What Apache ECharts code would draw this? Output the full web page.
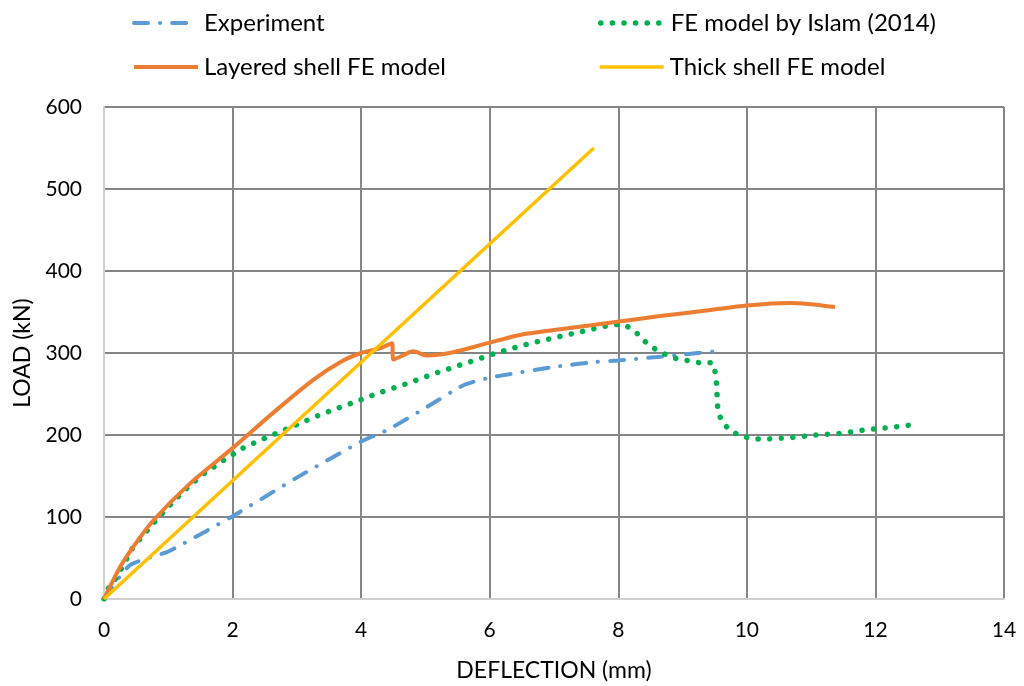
<!DOCTYPE html>
<html>
<head>
<meta charset="utf-8">
<script src="https://cdn.jsdelivr.net/npm/echarts@6/dist/echarts.min.js"></script>
<style>
  html, body { margin: 0; padding: 0; background: #fff; }
  #main { width: 1024px; height: 686px; }
</style>
</head>
<body>
<div id="main"></div>
<script>
// values (deflection in mm, load in kN)
var expX = [0, 0.4, 1.0, 2.0, 3.0, 4.0, 4.43, 5.02, 5.6, 6.0, 6.3, 7.0, 7.65, 8.0, 8.6, 9.0, 9.5];
var expY = [0, 41, 58, 101, 148, 192, 207, 234, 261, 270, 274, 283, 289, 291, 295, 298, 302];

var islamX = [0, 0.05, 0.2, 0.45, 0.72, 0.98, 1.23, 1.52, 1.84, 2.16, 2.5, 2.86, 3.4, 3.93, 4.26, 4.65, 5.18, 5.72, 6.1, 6.64, 7.2, 7.76, 7.95, 8.13, 8.29, 8.43, 8.57, 8.74, 8.91, 9.27, 9.47, 9.52, 9.53, 9.54, 9.55, 9.63, 9.77, 9.94, 10.13, 10.3, 10.7, 11.07, 11.45, 11.82, 12.2, 12.65];
var islamY = [0, 11, 27, 63, 88, 111, 131, 151, 168, 184, 196, 208, 226, 241, 251, 261, 276, 290, 300, 312, 322, 332, 335, 333, 324, 313, 305, 298, 293, 288, 288, 273, 259, 243, 228, 214, 204, 198, 195, 195, 197, 200, 202, 206, 209, 213];

var layerX = [0, 0.25, 0.45, 0.77, 1.34, 2.0, 2.63, 3.25, 3.7, 4.0, 4.3, 4.48, 4.5, 4.65, 4.81, 5.02, 5.43, 5.97, 6.47, 7.0, 7.98, 8.65, 9.4, 10.0, 10.67, 11.37];
var layerY = [0, 39, 63, 96, 141, 184, 227, 267, 290, 300, 306, 312, 292, 297, 302, 297, 301, 312, 322, 328, 338, 345, 352, 358, 361, 356];

var thickX = [0, 7.62];
var thickY = [0, 550];

var xTicks = [0, 2, 4, 6, 8, 10, 12, 14];
var yTicks = [0, 100, 200, 300, 400, 500, 600];

var names = ['Experiment', 'FE model by Islam (2014)', 'Layered shell FE model', 'Thick shell FE model'];
var colors = ['#5B9BD5', '#00B050', '#ED7D31', '#FFC000'];

function pairs(xs, ys) {
  return xs.map(function (x, i) { return [x, ys[i]]; });
}

var font = 'Lato, "Liberation Sans", sans-serif';

var lineStyles = [
  { color: colors[0], width: 4, type: [14, 12, 0.1, 12], cap: 'round' },
  { color: colors[1], width: 5.5, type: [0.1, 11.5], cap: 'round' },
  { color: colors[2], width: 4 },
  { color: colors[3], width: 3.5 }
];

var chart = echarts.init(document.getElementById('main'));

function legendAt(i, left, top) {
  return {
    data: [names[i]],
    left: left,
    top: top,
    itemWidth: 64,
    itemHeight: 16,
    itemStyle: { opacity: 0 },
    lineStyle: lineStyles[i],
    textStyle: { fontFamily: font, fontSize: 24, color: '#000', padding: [0, 0, 0, 1] }
  };
}

var option = {
  animation: false,
  color: colors,
  legend: [
    legendAt(0, 127, 6),
    legendAt(1, 593, 6),
    legendAt(2, 127, 50),
    legendAt(3, 593, 50)
  ],
  grid: { left: 104, right: 20, top: 107, bottom: 87, containLabel: false, outerBoundsMode: 'none' },
  xAxis: {
    type: 'value',
    min: xTicks[0],
    max: xTicks[xTicks.length - 1],
    interval: 2,
    name: 'DEFLECTION (mm)',
    nameLocation: 'middle',
    nameGap: 60,
    nameTextStyle: { fontFamily: font, fontSize: 23, color: '#000' },
    axisLine: { lineStyle: { color: '#d0d0d0', width: 2 } },
    axisTick: { show: false },
    axisLabel: { fontFamily: font, fontSize: 21, color: '#000', margin: 21 },
    splitLine: { lineStyle: { color: '#858585', width: 2 } }
  },
  yAxis: {
    type: 'value',
    min: yTicks[0],
    max: yTicks[yTicks.length - 1],
    interval: 100,
    name: 'LOAD (kN)',
    nameLocation: 'middle',
    nameGap: 70,
    nameTextStyle: { fontFamily: font, fontSize: 23, color: '#000' },
    axisLine: { show: true, lineStyle: { color: '#d0d0d0', width: 2 } },
    axisTick: { show: false },
    axisLabel: { fontFamily: font, fontSize: 21, color: '#000', margin: 22 },
    splitLine: { lineStyle: { color: '#858585', width: 2 } }
  },
  series: [
    {
      name: names[0], type: 'line', symbol: 'none', z: 3, smooth: 0.2,
      data: pairs(expX, expY),
      lineStyle: lineStyles[0]
    },
    {
      name: names[1], type: 'line', symbol: 'none', z: 4,
      data: pairs(islamX, islamY),
      lineStyle: lineStyles[1]
    },
    {
      name: names[2], type: 'line', symbol: 'none', z: 5, smooth: 0.3,
      data: pairs(layerX, layerY),
      lineStyle: lineStyles[2]
    },
    {
      name: names[3], type: 'line', symbol: 'none', z: 6,
      data: pairs(thickX, thickY),
      lineStyle: lineStyles[3]
    }
  ]
};

chart.setOption(option);
</script>
</body>
</html>
